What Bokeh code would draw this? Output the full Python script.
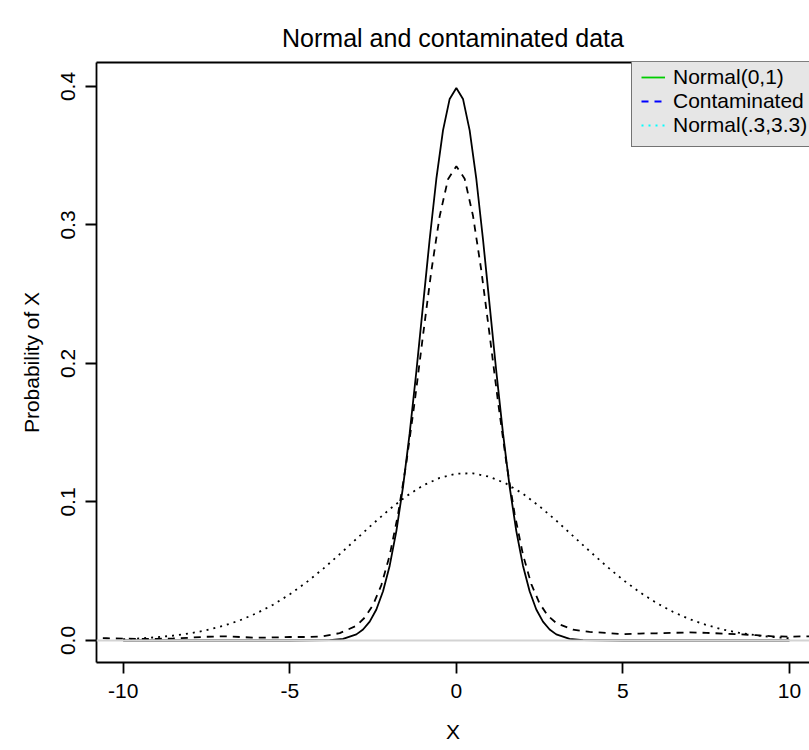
import math
from bokeh.plotting import figure
from bokeh.models import (Range1d, FixedTicker, LinearAxis, Legend, LegendItem,
                          Span, Title)
from bokeh.embed import file_html
from bokeh.resources import INLINE

# ---- data ----
x_normal = [-10, -5, -4.4, -3.8, -3.4, -3.0, -2.8, -2.6, -2.4, -2.2, -2.0, -1.8, -1.6,
            -1.4, -1.2, -1.0, -0.8, -0.6, -0.4, -0.2, 0.0, 0.2, 0.4, 0.6, 0.8, 1.0,
            1.2, 1.4, 1.6, 1.8, 2.0, 2.2, 2.4, 2.6, 2.8, 3.0, 3.4, 3.8, 4.4, 5, 10]
y_normal = [0.0, 0.0, 0.00003, 0.0003, 0.0012, 0.0044, 0.0079, 0.0136, 0.0224, 0.0355,
            0.0540, 0.0790, 0.1109, 0.1497, 0.1942, 0.2420, 0.2897, 0.3332, 0.3683,
            0.3910, 0.3989, 0.3910, 0.3683, 0.3332, 0.2897, 0.2420, 0.1942, 0.1497,
            0.1109, 0.0790, 0.0540, 0.0355, 0.0224, 0.0136, 0.0079, 0.0044, 0.0012,
            0.0003, 0.00003, 0.0, 0.0]

x_contam = [-11, -10.5, -10, -9.5, -9, -8.5, -8, -7.5, -7, -6.5, -6, -5.5, -5, -4.5, -4,
            -3.5, -3, -2.75, -2.5, -2.25, -2, -1.75, -1.5, -1.25, -1, -0.75, -0.5,
            -0.25, 0, 0.25, 0.5, 0.75, 1, 1.25, 1.5, 1.75, 2, 2.25, 2.5, 2.75, 3, 3.5,
            4, 4.5, 5, 5.5, 6, 6.5, 7, 7.5, 8, 8.5, 9, 9.5, 10, 10.5, 11]
y_contam = [0.0018, 0.0016, 0.0013, 0.0012, 0.0012, 0.0015, 0.0020, 0.0027, 0.0030,
            0.0025, 0.0020, 0.0022, 0.0025, 0.0025, 0.0030, 0.0053, 0.0106, 0.0165,
            0.0257, 0.0400, 0.0615, 0.0910, 0.1283, 0.1724, 0.2203, 0.2668, 0.3063,
            0.3330, 0.3424, 0.3334, 0.3067, 0.2671, 0.2205, 0.1726, 0.1285, 0.0914,
            0.0620, 0.0407, 0.0267, 0.0178, 0.0126, 0.0078, 0.0062, 0.0055, 0.0045,
            0.0050, 0.0052, 0.0055, 0.0058, 0.0055, 0.0050, 0.0045, 0.0038, 0.0030,
            0.0028, 0.0030, 0.0032]

x_wide = [-10, -9.5, -9, -8.5, -8, -7.5, -7, -6.5, -6, -5.5, -5, -4.5, -4, -3.5, -3,
          -2.5, -2, -1.5, -1, -0.5, 0, 0.5, 1, 1.5, 2, 2.5, 3, 3.5, 4, 4.5, 5, 5.5, 6,
          6.5, 7, 7.5, 8, 8.5, 9, 9.5, 10]
y_wide = [0.0009, 0.0015, 0.0023, 0.0035, 0.0051, 0.0074, 0.0105, 0.0145, 0.0196,
          0.0258, 0.0333, 0.0420, 0.0517, 0.0623, 0.0733, 0.0843, 0.0948, 0.1042,
          0.1119, 0.1174, 0.1204, 0.1207, 0.1182, 0.1132, 0.1059, 0.0968, 0.0865,
          0.0755, 0.0645, 0.0538, 0.0438, 0.0349, 0.0272, 0.0207, 0.0154, 0.0112,
          0.0079, 0.0055, 0.0037, 0.0025, 0.0016]

x_ticks = [-10, -5, 0, 5, 10]
x_tick_labels = ["-10", "-5", "0", "5", "10"]
y_ticks = [0.0, 0.1, 0.2, 0.3, 0.4]
y_tick_labels = ["0.0", "0.1", "0.2", "0.3", "0.4"]
legend_labels = ["Normal(0,1)", "Contaminated", "Normal(.3,3.3)"]
legend_colors = ["#00cd00", "#0000ff", "#00ffff"]
legend_dashes = ["solid", "7 6", "2 5"]

FONT = "Liberation Sans"

p = figure(width=809, height=750, output_backend="svg", toolbar_location=None,
           x_range=Range1d(-10.8, 10.6), y_range=Range1d(-0.0159, 0.4173),
           min_border_left=96, min_border_right=0, min_border_top=62,
           min_border_bottom=88, x_axis_label="X", y_axis_label="Probability of X")
p.outline_line_color = None
p.xgrid.visible = False
p.ygrid.visible = False
p.background_fill_color = "white"

p.title = Title(text="Normal and contaminated data", align="center",
                text_font=FONT, text_font_size="25px", text_font_style="normal",
                text_color="black", standoff=22)

for ax in (p.xaxis[0], p.yaxis[0]):
    ax.axis_line_color = "black"
    ax.axis_line_width = 1.8
    ax.major_tick_line_color = "black"
    ax.major_tick_line_width = 1.8
    ax.major_tick_out = 11
    ax.major_tick_in = 0
    ax.minor_tick_line_color = None
    ax.major_label_text_font = FONT
    ax.major_label_text_font_size = "21px"
    ax.major_label_text_color = "black"
    ax.axis_label_text_font = FONT
    ax.axis_label_text_font_size = "21px"
    ax.axis_label_text_font_style = "normal"
    ax.axis_label_text_color = "black"

p.xaxis[0].ticker = FixedTicker(ticks=x_ticks)
p.xaxis[0].major_label_overrides = dict(zip(x_ticks, x_tick_labels))
p.xaxis[0].major_label_standoff = 10
p.xaxis[0].axis_label_standoff = 19
p.yaxis[0].ticker = FixedTicker(ticks=y_ticks)
p.yaxis[0].major_label_overrides = dict(zip(y_ticks, y_tick_labels))
p.yaxis[0].major_label_orientation = "vertical"
p.yaxis[0].major_label_standoff = 10
p.yaxis[0].axis_label_standoff = 16

top_axis = LinearAxis(ticker=FixedTicker(ticks=[]), axis_line_color="black",
                      axis_line_width=1.8, major_label_text_font_size="0px",
                      minor_tick_line_color=None, major_tick_line_color=None)
p.add_layout(top_axis, "above")

p.add_layout(Span(location=0, dimension="width", line_color="#d3d3d3", line_width=1.8))

p.line(x_normal, y_normal, line_color="black", line_width=1.8)
p.line(x_contam, y_contam, line_color="black", line_width=1.8, line_dash="7 6")
p.line(x_wide, y_wide, line_color="black", line_width=1.8, line_dash="2 5")

items = []
for lab, col, dash in zip(legend_labels, legend_colors, legend_dashes):
    r = p.line(x=[math.nan, math.nan], y=[math.nan, math.nan], line_color=col,
               line_width=1.8, line_dash=dash)
    items.append(LegendItem(label=lab, renderers=[r]))

legend = Legend(items=items, location=(535, 515), padding=9, spacing=-2, margin=0,
                glyph_width=24, glyph_height=22, label_height=22, label_standoff=8,
                label_text_font=FONT, label_text_font_size="21px",
                label_text_color="black", background_fill_color="#e6e6e6",
                background_fill_alpha=1.0, border_line_color="black",
                border_line_width=1.8)
p.add_layout(legend)

open("out.html", "w").write(file_html(p, INLINE))
